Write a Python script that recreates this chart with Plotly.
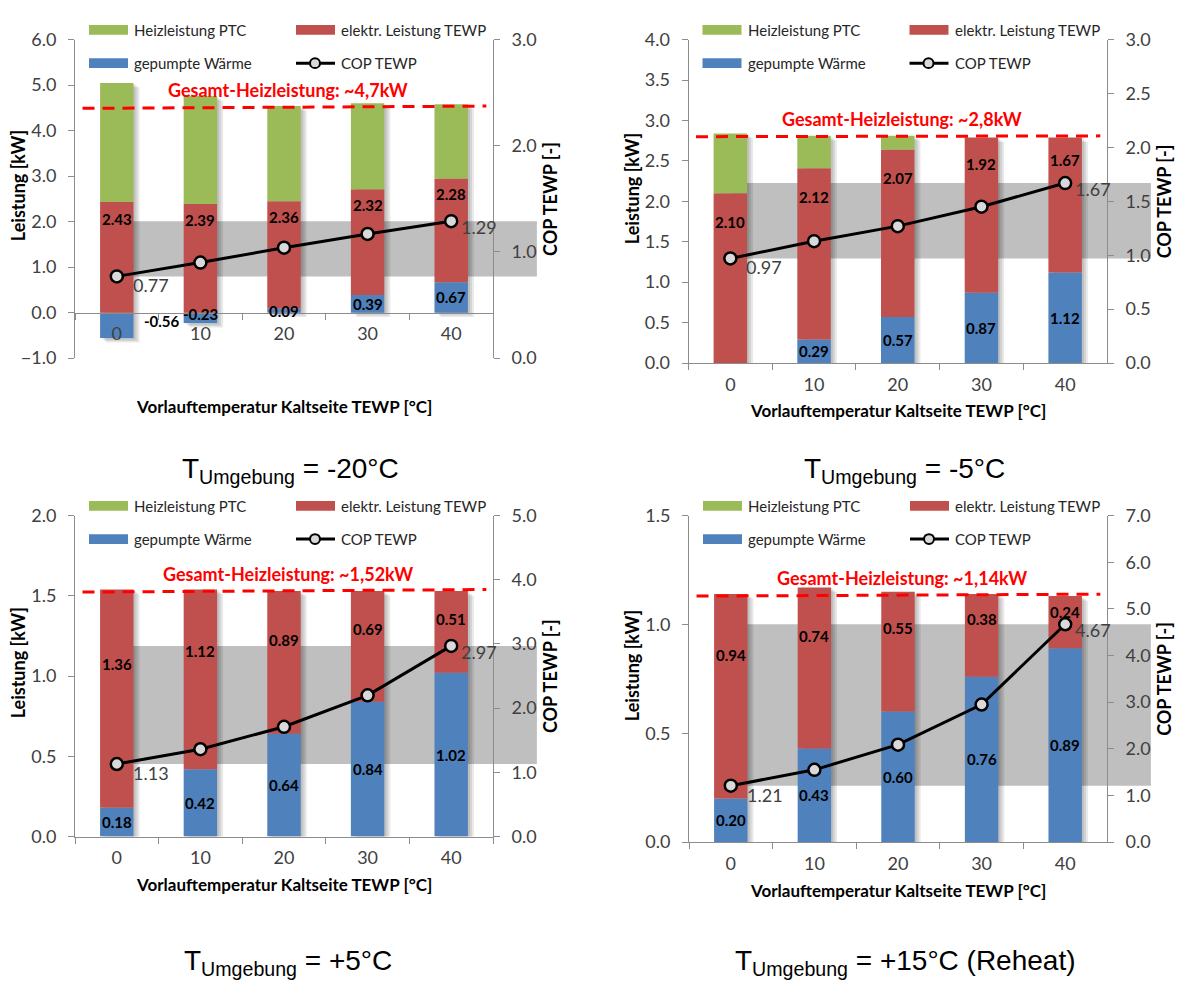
import plotly.graph_objects as go

# ---------------------------------------------------------------- data
categories = ["0", "10", "20", "30", "40"]

# T_Umgebung = -20 °C
pumped_m20 = [-0.56, -0.23, 0.09, 0.39, 0.67]
elec_m20 = [2.43, 2.39, 2.36, 2.32, 2.28]
ptc_m20 = [2.62, 2.37, 2.09, 1.89, 1.63]
cop_m20 = [0.77, 0.90, 1.04, 1.17, 1.29]

# T_Umgebung = -5 °C
pumped_m5 = [-0.06, 0.29, 0.57, 0.87, 1.12]
elec_m5 = [2.10, 2.12, 2.07, 1.92, 1.67]
ptc_m5 = [0.74, 0.40, 0.17, 0.00, 0.00]
cop_m5 = [0.97, 1.13, 1.27, 1.45, 1.67]

# T_Umgebung = +5 °C
pumped_p5 = [0.18, 0.42, 0.64, 0.84, 1.02]
elec_p5 = [1.36, 1.12, 0.89, 0.69, 0.51]
ptc_p5 = [0.00, 0.00, 0.00, 0.00, 0.00]
cop_p5 = [1.13, 1.36, 1.71, 2.20, 2.97]

# T_Umgebung = +15 °C (Reheat)
pumped_p15 = [0.20, 0.43, 0.60, 0.76, 0.89]
elec_p15 = [0.94, 0.74, 0.55, 0.38, 0.24]
ptc_p15 = [0.00, 0.00, 0.00, 0.00, 0.00]
cop_p15 = [1.21, 1.55, 2.09, 2.95, 4.67]

# total heating power guide line (start / end value) and its label
total_start = [4.49, 2.80, 1.523, 1.130]
total_end = [4.54, 2.81, 1.539, 1.139]
total_labels = ["~4,7kW", "~2,8kW", "~1,52kW", "~1,14kW"]

ambient_labels = ["-20°C", "-5°C", "+5°C", "+15°C (Reheat)"]

# axis ranges: (min, max, step)
left_ranges = [(-1.0, 6.0, 1.0), (0.0, 4.0, 0.5), (0.0, 2.0, 0.5), (0.0, 1.5, 0.5)]
right_ranges = [(0.0, 3.0, 1.0), (0.0, 3.0, 0.5), (0.0, 5.0, 1.0), (0.0, 7.0, 1.0)]

legend_names = ["Heizleistung PTC", "elektr. Leistung TEWP", "gepumpte Wärme", "COP TEWP"]

# ---------------------------------------------------------------- style
W, H = 1177, 990
GREEN, RED, BLUE = "#9BBB59", "#C0504D", "#4F81BD"
BAND = "#BFBFBF"
AXIS = "#8C8C8C"
FONT = "Lato"
TICKFONT = dict(family=FONT, size=18, color="#404040")
BAR_W = 0.4

# plot areas in pixels: left, right, top, bottom
boxes = [(75, 493, 28.3, 354), (688.5, 1107, 28.3, 359),
         (75, 493, 515, 843.3), (689, 1107, 515, 849)]
red_label_frac = [0.15, 0.17, 0.34, 0.30]
subtitle_pos = [(290, 469), (904, 469), (288, 972), (905, 972)]

panels = [
    (pumped_m20, elec_m20, ptc_m20, cop_m20),
    (pumped_m5, elec_m5, ptc_m5, cop_m5),
    (pumped_p5, elec_p5, ptc_p5, cop_p5),
    (pumped_p15, elec_p15, ptc_p15, cop_p15),
]


def px(x):
    return x / W


def py(y):
    return 1 - y / H


fig = go.Figure()
layout = dict(
    width=W, height=H, margin=dict(l=0, r=0, t=0, b=0),
    paper_bgcolor="white", plot_bgcolor="rgba(0,0,0,0)",
    barmode="overlay", showlegend=False, font=dict(family=FONT),
)
shapes, annotations = [], []

for i, (pumped, elec, ptc, cop) in enumerate(panels):
    xr = "x" if i == 0 else f"x{i + 1}"
    yl = "y" if i == 0 else f"y{2 * i + 1}"
    yr = f"y{2 * i + 2}"
    left, right, top, bottom = boxes[i]
    xdom = [px(left), px(right)]
    ydom = [py(bottom), py(top)]
    lmin, lmax, ldt = left_ranges[i]
    rmin, rmax, rdt = right_ranges[i]

    # explicit stacking: negatives hang below zero, positives stack upwards
    blue_base = [0.0] * len(categories)
    red_base = [max(b, 0.0) for b in pumped]
    green_base = [rb + e for rb, e in zip(red_base, elec)]
    stack_low = [min(b, 0.0) for b in pumped]
    stack_high = [gb + p for gb, p in zip(green_base, ptc)]

    # soft drop shadow behind each column
    cat_px = (right - left) / len(categories)
    unit_px = (bottom - top) / (lmax - lmin)
    for dx, dy in ((2, 1.5), (4, 3), (6, 4.5)):
        fig.add_bar(x=categories, y=[h - l for h, l in zip(stack_high, stack_low)],
                    base=[l - dy / unit_px for l in stack_low], xaxis=xr, yaxis=yl,
                    width=BAR_W, offset=-BAR_W / 2 + dx / cat_px,
                    marker=dict(color="rgba(0,0,0,0.09)", line=dict(width=0)),
                    hoverinfo="skip")

    for vals, base, col in ((pumped, blue_base, BLUE), (elec, red_base, RED),
                            (ptc, green_base, GREEN)):
        fig.add_bar(x=categories, y=vals, base=base, xaxis=xr, yaxis=yl, width=BAR_W,
                    marker=dict(color=col, line=dict(width=0)), hoverinfo="y")
    fig.add_scatter(x=categories, y=cop, xaxis=xr, yaxis=yr, mode="lines+markers",
                    line=dict(color="black", width=3),
                    marker=dict(size=12, color="#D9D9D9", line=dict(color="black", width=2.5)),
                    hoverinfo="y")

    xaxis = dict(domain=xdom, type="category", range=[-0.5, 4.5], showline=True,
                 linecolor=AXIS, linewidth=1, ticks="outside", ticklen=6, tickcolor=AXIS,
                 tickson="boundaries", tickfont=TICKFONT, showgrid=False, zeroline=False,
                 ticklabelstandoff=5)
    if lmin < 0:
        xaxis.update(anchor="free",
                     position=ydom[0] + (0 - lmin) / (lmax - lmin) * (ydom[1] - ydom[0]))
    else:
        xaxis.update(anchor=yl)
    ybase = dict(showline=True, linecolor=AXIS, linewidth=1, ticks="outside", ticklen=6,
                 tickcolor=AXIS, tickfont=TICKFONT, showgrid=False, zeroline=False,
                 tickformat=".1f", ticklabelstandoff=8)
    yleft = dict(ybase, domain=ydom, anchor=xr, range=[lmin, lmax], tick0=lmin, dtick=ldt)
    yright = dict(ybase, overlaying=yl, side="right", anchor=xr, range=[rmin, rmax],
                  tick0=rmin, dtick=rdt)
    layout["xaxis" if i == 0 else f"xaxis{i + 1}"] = xaxis
    layout["yaxis" if i == 0 else f"yaxis{2 * i + 1}"] = yleft
    layout[f"yaxis{2 * i + 2}"] = yright

    # COP range band
    shapes.append(dict(type="rect", xref=f"{xr} domain", yref=yr, x0=0.1, x1=1.105,
                       y0=min(cop), y1=max(cop), fillcolor=BAND, line=dict(width=0),
                       layer="below"))
    # total heating power line + label
    shapes.append(dict(type="line", xref=f"{xr} domain", yref=yl, x0=0.018, x1=0.984,
                       y0=total_start[i], y1=total_end[i],
                       line=dict(color="#FF0000", width=3, dash="12px,8px"), layer="above"))
    annotations.append(dict(xref=f"{xr} domain", yref=yl, x=0.51,
                            y=(total_start[i] + total_end[i]) / 2, yshift=17,
                            text=f"Gesamt-Heizleistung: {total_labels[i]}", showarrow=False,
                            font=dict(family=FONT, size=18, color="#FF0000", weight="bold"),
                            xanchor="center", yanchor="middle"))

    # value labels on bar segments
    for k in range(len(categories)):
        b, e = pumped[k], elec[k]
        b_lo, b_hi = min(b, 0.0), max(b, 0.0)
        e_hi = red_base[k] + e
        if abs(b) >= 0.08:
            annotations.append(dict(xref=xr, yref=yl, x=k, y=(b_lo + b_hi) / 2,
                                    xshift=45 if b < -0.4 else 0, yshift=4 if b < 0 else 0,
                                    text=f"{b:.2f}", showarrow=False,
                                    font=dict(family=FONT, size=15, color="black", weight="bold"),
                                    xanchor="center", yanchor="middle"))
        annotations.append(dict(xref=xr, yref=yl, x=k, y=e_hi - red_label_frac[i] * e,
                                text=f"{e:.2f}", showarrow=False,
                                font=dict(family=FONT, size=15, color="black", weight="bold"),
                                xanchor="center", yanchor="middle"))

    # COP labels at first and last point
    for k, xs, ys in ((0, 14, -9), (len(cop) - 1, 8, -6)):
        annotations.append(dict(xref=xr, yref=yr, x=k, y=cop[k], xshift=xs, yshift=ys,
                                text=f"{cop[k]:.2f}", showarrow=False,
                                font=dict(family=FONT, size=18, color="#404040"),
                                xanchor="left", yanchor="middle"))

    # axis titles
    cy = (top + bottom) / 2
    annotations.append(dict(xref="paper", yref="paper", x=px(left - 57), y=py(cy - 13),
                            text="Leistung [kW]", textangle=-90, showarrow=False,
                            font=dict(family=FONT, size=18, color="black", weight="bold"),
                            xanchor="center", yanchor="middle"))
    annotations.append(dict(xref="paper", yref="paper", x=px(right + 57), y=py(cy),
                            text="COP TEWP [-]", textangle=-90, showarrow=False,
                            font=dict(family=FONT, size=18, color="black", weight="bold"),
                            xanchor="center", yanchor="middle"))
    annotations.append(dict(xref="paper", yref="paper", x=px((left + right) / 2), y=py(bottom + 49),
                            text="Vorlauftemperatur Kaltseite TEWP [°C]", showarrow=False,
                            font=dict(family=FONT, size=17, color="black", weight="bold"),
                            xanchor="center", yanchor="middle"))

    # legend block
    r1, r2 = top - 10, top + 24
    for name, col, (sx, sy) in ((legend_names[0], GREEN, (14, r1)),
                                (legend_names[1], RED, (221, r1)),
                                (legend_names[2], BLUE, (14, r2))):
        shapes.append(dict(type="rect", xref="paper", yref="paper",
                           x0=px(left + sx), x1=px(left + sx + 39), y0=py(sy + 5), y1=py(sy - 5),
                           fillcolor=col, line=dict(width=0)))
        annotations.append(dict(xref="paper", yref="paper", x=px(left + sx + 43), y=py(sy),
                                text=name, showarrow=False,
                                font=dict(family=FONT, size=15, color="#262626"),
                                xanchor="left", yanchor="middle"))
    shapes.append(dict(type="line", xref="paper", yref="paper", x0=px(left + 221),
                       x1=px(left + 260), y0=py(r2), y1=py(r2),
                       line=dict(color="black", width=3)))
    shapes.append(dict(type="circle", xref="paper", yref="paper", x0=px(left + 235),
                       x1=px(left + 245), y0=py(r2 + 5), y1=py(r2 - 5),
                       fillcolor="#D9D9D9", line=dict(color="black", width=2)))
    annotations.append(dict(xref="paper", yref="paper", x=px(left + 264), y=py(r2),
                            text=legend_names[3], showarrow=False,
                            font=dict(family=FONT, size=15, color="#262626"),
                            xanchor="left", yanchor="middle"))

    # ambient temperature caption
    sxp, syp = subtitle_pos[i]
    annotations.append(dict(xref="paper", yref="paper", x=px(sxp), y=py(syp),
                            text=f"T<sub>Umgebung</sub> = {ambient_labels[i]}", showarrow=False,
                            font=dict(family="Liberation Sans", size=28, color="black"),
                            xanchor="center", yanchor="middle"))

layout["shapes"] = shapes
layout["annotations"] = annotations
fig.update_layout(**layout)
fig.write_html("out.html")
